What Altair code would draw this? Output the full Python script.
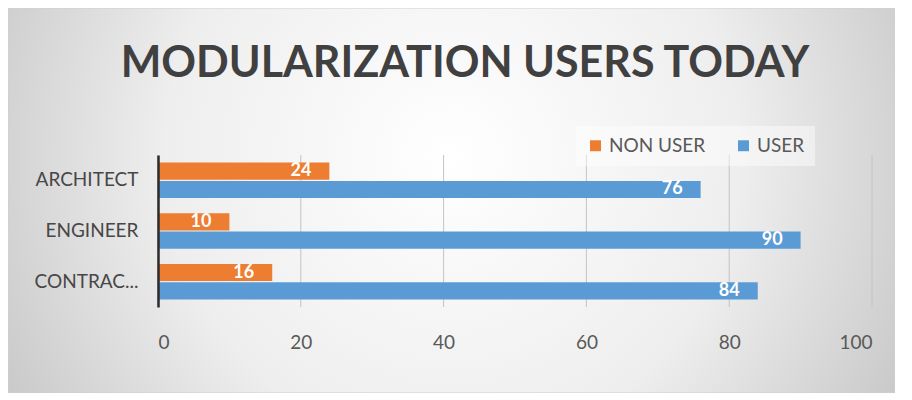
import altair as alt
import pandas as pd

roles = ["ARCHITECT", "ENGINEER", "CONTRAC..."]
non_user = [24, 10, 16]
user = [76, 90, 84]
series = ["NON USER", "USER"]
colors = ["#ED7D31", "#5B9BD5"]
ticks = [0, 20, 40, 60, 80, 100]

rows = []
for r, a, b in zip(roles, non_user, user):
    rows.append({"role": r, "series": series[0], "value": a})
    rows.append({"role": r, "series": series[1], "value": b})
df = pd.DataFrame(rows)
grid_df = pd.DataFrame({"t": ticks})

W, H = 714, 152
PL, PT, PR, PB = 150, 147, 23, 86

xscale = alt.Scale(domain=[0, 100], nice=False)
xaxis = alt.Axis(title=None, values=ticks, grid=False, domain=False,
                 ticks=False, labelFont="Lato", labelFontSize=19,
                 labelColor="#595959", labelPadding=26, zindex=1)

bg = alt.Chart(alt.Data(values=[{"a": 1}])).mark_rect(
    fill={
        "gradient": "radial",
        "stops": [
            {"offset": 0, "color": "#ffffff"},
            {"offset": 0.5, "color": "#eeeeee"},
            {"offset": 1, "color": "#bdbdbd"},
        ],
        "x1": 0.5, "y1": 0.45, "x2": 0.5, "y2": 0.45, "r1": 0, "r2": 0.65,
    },
    stroke="#cfcfcf",
    strokeWidth=1,
).encode(
    x=alt.value(-PL), x2=alt.value(W + PR),
    y=alt.value(-PT), y2=alt.value(H + PB),
)

grid = alt.Chart(grid_df).mark_rule(color="#c4c4c4", strokeWidth=1).encode(
    x=alt.X("t:Q", scale=xscale, axis=xaxis),
    y=alt.value(0), y2=alt.value(H),
)

base = alt.Chart(df).encode(
    y=alt.Y("role:N", sort=roles,
            scale=alt.Scale(paddingInner=0.3, paddingOuter=0.15),
            axis=alt.Axis(title=None, labelFont="Lato", labelFontSize=19,
                          labelColor="#474747", labelPadding=20, ticks=False,
                          domainColor="#2b2b2b", domainWidth=2.5, zindex=1)),
    yOffset=alt.YOffset("series:N", sort=series,
                        scale=alt.Scale(paddingInner=0.06)),
    x=alt.X("value:Q", scale=xscale, axis=xaxis),
)

bars = base.mark_bar().encode(
    color=alt.Color("series:N", sort=series,
                    scale=alt.Scale(domain=series, range=colors),
                    legend=alt.Legend(title=None, orient="none", legendX=418,
                                      legendY=-29, direction="horizontal",
                                      symbolType="square", symbolSize=120,
                                      labelFont="Lato", labelFontSize=19,
                                      labelColor="#595959", columnPadding=28,
                                      fillColor="rgba(255,255,255,0.45)",
                                      padding=10)),
)

labels = base.mark_text(align="right", baseline="middle", dx=-18,
                        color="white", font="Lato", fontSize=18,
                        fontWeight="bold").encode(text="value:Q")

chart = alt.layer(bg, grid, bars, labels).properties(
    width=W, height=H,
    padding={"left": PL, "top": PT, "right": PR, "bottom": PB},
    autosize=alt.AutoSizeParams(type="none"),
    background="white",
    title=alt.TitleParams("MODULARIZATION USERS TODAY", font="Lato",
                          fontSize=43, fontWeight="bold", color="#404040",
                          anchor="middle", dx=-50, offset=-78),
).configure_view(stroke=None)

chart.save("out.html", embed_options={"renderer": "svg", "actions": False})
